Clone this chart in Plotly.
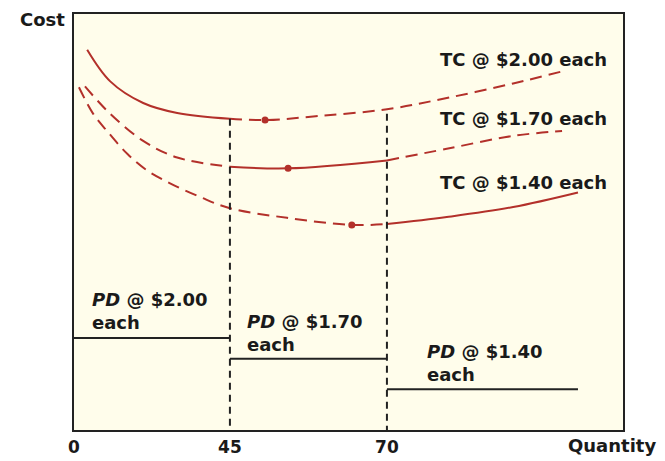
import plotly.graph_objects as go

# Schematic horizontal scale (0-100); quantity breakpoints are placed at these positions
TICK_POS = [0, 28.4, 57.0]
TICK_LABELS = ["0", "45", "70"]

# TC @ $2.00 each
tc200_x = [2.4, 6.6, 12.6, 18.8, 28.4, 34.8, 44.8, 57.0, 67.9, 80.0, 88.9]
tc200_y = [91.4, 83.8, 78.6, 76.2, 74.8, 74.5, 75.5, 77.1, 79.8, 83.3, 86.2]
tc200_min = (34.8, 74.5)

# TC @ $1.70 each
tc170_x = [2.0, 6.6, 12.6, 18.8, 28.4, 39.0, 57.0, 67.9, 80.0, 88.9]
tc170_y = [82.6, 76.0, 69.5, 65.5, 63.3, 62.9, 64.8, 67.6, 70.7, 71.9]
tc170_min = (39.0, 62.9)

# TC @ $1.40 each
tc140_x = [0.9, 3.5, 6.0, 9.7, 13.3, 17.5, 23.0, 28.4, 38.8, 50.6, 57.0, 67.9, 80.0, 91.8]
tc140_y = [82.4, 76.0, 71.9, 66.4, 62.4, 59.3, 56.0, 53.3, 51.0, 49.3, 49.5, 51.2, 53.6, 57.1]
tc140_min = (50.6, 49.3)

# Purchase cost (PD) steps
pd_x_start = [0, 28.4, 57.0]
pd_x_end = [28.4, 57.0, 91.8]
pd_level = [22.1, 17.1, 9.8]
pd_labels = ["$2.00", "$1.70", "$1.40"]
pd_label_x = [2.9, 31.1, 63.9]
pd_label_y = [28.5, 23.2, 16.0]

tc_labels = ["TC @ $2.00 each", "TC @ $1.70 each", "TC @ $1.40 each"]
tc_label_y = [89.0, 74.8, 59.5]

RED = "#b3302a"
BLACK = "#222222"
RED_DASH = "12px,7px"


def seg(xs, ys, lo, hi):
    px, py = [], []
    for x, y in zip(xs, ys):
        if lo - 1e-9 <= x <= hi + 1e-9:
            px.append(x)
            py.append(y)
    return px, py


fig = go.Figure()


def add_line(xs, ys, lo, hi, dashed):
    px, py = seg(xs, ys, lo, hi)
    fig.add_trace(go.Scatter(
        x=px, y=py, mode="lines", line_shape="spline",
        line=dict(color=RED, width=2, dash=RED_DASH if dashed else "solid"),
        hoverinfo="skip", showlegend=False))


# TC @ 2.00: solid up to 45, dashed beyond
add_line(tc200_x, tc200_y, 0, TICK_POS[1], False)
add_line(tc200_x, tc200_y, TICK_POS[1], 100, True)
# TC @ 1.70: dashed, solid between 45 and 70, dashed
add_line(tc170_x, tc170_y, 0, TICK_POS[1], True)
add_line(tc170_x, tc170_y, TICK_POS[1], TICK_POS[2], False)
add_line(tc170_x, tc170_y, TICK_POS[2], 100, True)
# TC @ 1.40: dashed up to 70, solid beyond
add_line(tc140_x, tc140_y, 0, TICK_POS[2], True)
add_line(tc140_x, tc140_y, TICK_POS[2], 100, False)

# minimum points
fig.add_trace(go.Scatter(
    x=[tc200_min[0], tc170_min[0], tc140_min[0]],
    y=[tc200_min[1], tc170_min[1], tc140_min[1]],
    mode="markers", marker=dict(color=RED, size=7),
    hoverinfo="skip", showlegend=False))

# vertical dashed lines at breakpoints
for xb, ytop in [(TICK_POS[1], tc200_y[4]), (TICK_POS[2], 76.0)]:
    fig.add_trace(go.Scatter(
        x=[xb, xb], y=[ytop, 0], mode="lines",
        line=dict(color=BLACK, width=2, dash="7px,5px"),
        hoverinfo="skip", showlegend=False))

# PD steps
for x0, x1, lv in zip(pd_x_start, pd_x_end, pd_level):
    fig.add_trace(go.Scatter(
        x=[x0, x1], y=[lv, lv], mode="lines",
        line=dict(color=BLACK, width=2),
        hoverinfo="skip", showlegend=False))

FONT = dict(family="DejaVu Sans", size=18, color="#1a1a1a")
TICKFONT = dict(family="DejaVu Sans", size=17, color="#1a1a1a")

annotations = []
for txt, yv in zip(tc_labels, tc_label_y):
    annotations.append(dict(x=97.4, y=yv, xref="x", yref="y", text="<b>" + txt + "</b>",
                            showarrow=False, xanchor="right", yanchor="middle", font=FONT))
for lab, lx, ly in zip(pd_labels, pd_label_x, pd_label_y):
    annotations.append(dict(x=lx, y=ly, xref="x", yref="y",
                            text="<b><i>PD</i> @ " + lab + "<br>each</b>",
                            showarrow=False, xanchor="left", yanchor="middle", align="left",
                            font=FONT))
annotations.append(dict(x=-0.058, y=0.986, xref="paper", yref="paper", text="<b>Cost</b>",
                        showarrow=False, xanchor="center", yanchor="middle", font=FONT))
annotations.append(dict(x=0.98, y=-0.038, xref="paper", yref="paper", text="<b>Quantity</b>",
                        showarrow=False, xanchor="center", yanchor="middle", font=FONT))

fig.update_layout(
    width=657, height=453,
    margin=dict(l=66, r=42, t=4, b=29),
    paper_bgcolor="white", plot_bgcolor="#fffdeb",
    annotations=annotations,
    showlegend=False,
)
fig.update_xaxes(range=[0, 100], showgrid=False, zeroline=False,
                 showline=True, mirror=True, linecolor=BLACK, linewidth=2,
                 tickvals=TICK_POS, ticktext=["<b>" + t + "</b>" for t in TICK_LABELS],
                 ticks="", tickfont=TICKFONT, ticklabelstandoff=1)
fig.update_yaxes(range=[0, 100], showgrid=False, zeroline=False,
                 showline=True, mirror=True, linecolor=BLACK, linewidth=2,
                 showticklabels=False, ticks="")

fig.write_html("out.html")
